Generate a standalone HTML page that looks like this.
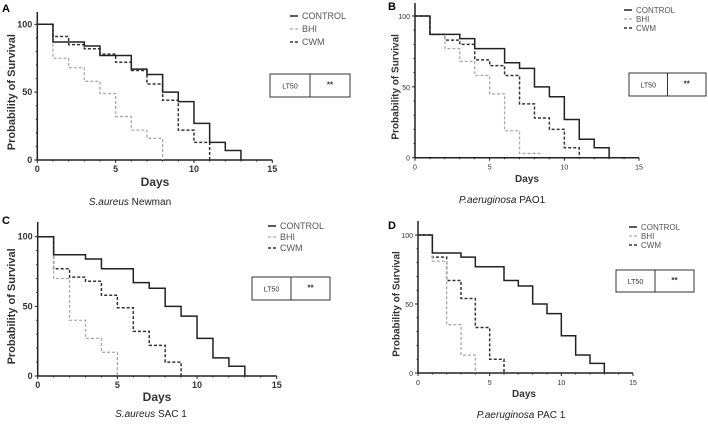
<!DOCTYPE html>
<html><head><meta charset="utf-8"><style>
body{margin:0;background:#fff;width:708px;height:421px;overflow:hidden;font-family:"Liberation Sans",sans-serif}
svg text{font-family:"Liberation Sans",sans-serif}
</style></head><body>
<svg id="fig" width="708" height="421"></svg>
<script>
// Day of each step, and % survival from that day onward (for each series)
const ctrlDays=[0,1,3,4,6,7,8,9,10,11,12,13];
const ctrlVals=[100,87,84,77,67,63,50,43,27,13,7,0];
const aBhiDays=[0,1,2,3,4,5,6,7,8];
const aBhiVals=[100,75,68,58,49,32,22,16,0];
const aCwmDays=[0,1,2,3,4,5,6,7,8,9,10,11];
const aCwmVals=[100,91,85,82,78,72,66,56,44,22,13,0];
const bBhiDays=[0,1,2,3,4,5,6,7,8];
const bBhiVals=[100,87,77,68,58,45,19,3,3];
const bCwmDays=[0,1,2,3,4,5,6,7,8,9,10,11];
const bCwmVals=[100,87,83,80,69,65,58,38,28,20,7,0];
const cBhiDays=[0,1,2,3,4,5];
const cBhiVals=[100,70,40,27,17,0];
const cCwmDays=[0,1,2,3,4,5,6,7,8,9];
const cCwmVals=[100,77,71,68,58,49,32,22,10,0];
const dBhiDays=[0,1,2,3,4];
const dBhiVals=[100,81,35,13,0];
const dCwmDays=[0,1,2,3,4,5,6];
const dCwmVals=[100,84,67,54,33,10,0];
const xTicks=[0,5,10,15];
const yTicks=[0,50,100];
const seriesNames=["CONTROL","BHI","CWM"];

const NS="http://www.w3.org/2000/svg";
const svg=document.getElementById('fig');
function el(tag,attrs,parent,txt){const e=document.createElementNS(NS,tag);for(const k in attrs)e.setAttribute(k,attrs[k]);if(txt!==undefined)e.textContent=txt;(parent||svg).appendChild(e);return e;}

const panels=[
 {id:'a',letter:'A',lx:2,ly:12,x0:37.3,x1:272.3,y100:24.3,y0:160,top:12,fs:9,bold:true,ytx:8,days:[155,186],cap:[130,205],capI:'S.aureus',capR:' Newman',leg:[290,16,13],box:[270,74,80,23],bhi:[aBhiDays,aBhiVals],cwm:[aCwmDays,aCwmVals]},
 {id:'b',letter:'B',lx:388,ly:10,x0:415,x1:639,y100:16,y0:157.7,top:3,fs:7,bold:false,ytx:392,days:[527,182],cap:[502,203],capI:'P.aeruginosa',capR:' PAO1',leg:[624,10,9],box:[629,73,77,23],bhi:[bBhiDays,bBhiVals],cwm:[bCwmDays,bCwmVals]},
 {id:'c',letter:'C',lx:2,ly:224,x0:37.7,x1:276.7,y100:236.7,y0:376,top:222,fs:9,bold:true,ytx:8,days:[157,401],cap:[151,417],capI:'S.aureus',capR:' SAC 1',leg:[268,226,11],box:[252,277,78,23],bhi:[cBhiDays,cBhiVals],cwm:[cCwmDays,cCwmVals]},
 {id:'d',letter:'D',lx:388,ly:229,x0:418,x1:633,y100:235,y0:373,top:221,fs:7,bold:false,ytx:393,days:[524,397],cap:[521,418],capI:'P.aeruginosa',capR:' PAC 1',leg:[629,227,9],box:[616,270,78,22],bhi:[dBhiDays,dBhiVals],cwm:[dCwmDays,dCwmVals]}
];

function stepPath(days,vals,sx,sy){
  let d='M'+sx(days[0])+','+sy(vals[0]);
  for(let i=1;i<days.length;i++){d+=' H'+sx(days[i])+' V'+sy(vals[i]);}
  if(vals[vals.length-1]>0) d+=' H'+sx(days[days.length-1]+0.4);
  return d;
}

panels.forEach(p=>{
  const g=el('g',{});
  
  
  const sx=v=>p.x0+(p.x1-p.x0)*v/15;
  const sy=v=>p.y0+(p.y100-p.y0)*v/100;
  const t=el('text',{x:p.lx,y:p.ly,'font-size':11,'font-weight':'bold'},g,p.letter);
  
  // axes
  const ax=el('path',{d:`M${p.x0},${p.top} V${p.y0} H${p.x1}`,stroke:'#222',fill:'none','stroke-width':1.5},g);
  
  for(let i=0;i<=15;i++){const tk=el('line',{x1:sx(i),x2:sx(i),y1:p.y0,y2:p.y0+(i%5?1.5:3),stroke:'#222','stroke-width':1},g);
    }
  for(let v=0;v<=100;v+=10){const tk=el('line',{x1:p.x0-(v%50?1.5:3),x2:p.x0,y1:sy(v),y2:sy(v),stroke:'#222'},g);
    }
  const fw=p.bold?'bold':'normal';
  xTicks.forEach(v=>{const l=el('text',{x:sx(v),y:p.y0+12,'font-size':p.fs,'font-weight':fw,'text-anchor':'middle',fill:'#333'},g,v);
    });
  yTicks.forEach(v=>{const l=el('text',{x:p.x0-5,y:sy(v)+3,'font-size':p.fs,'font-weight':fw,'text-anchor':'end',fill:'#333'},g,v);
    });
  const cy=(p.y0+p.y100)/2;
  const yt=el('text',{x:p.ytx,y:cy,'font-size':p.bold?11:10,'font-weight':'bold','text-anchor':'middle',fill:'#333',transform:`rotate(-90 ${p.ytx} ${cy})`,'dominant-baseline':'hanging'},g,'Probability of Survival');
  
  const xt=el('text',{x:p.days[0],y:p.days[1],'font-size':p.bold?12:10,'font-weight':'bold','text-anchor':'middle',fill:'#333'},g,'Days');
  
  const cap=el('text',{x:p.cap[0],y:p.cap[1],'font-size':10,'text-anchor':'middle',fill:'#222'},g);
  
  el('tspan',{'font-style':'italic'},cap,p.capI);el('tspan',{},cap,p.capR);
  // series
  const styles=[{c:'#222',w:1.5,da:'none'},{c:'#aaa',w:1.3,da:'3,2'},{c:'#333',w:1.5,da:'3,2'}];
  const data=[[ctrlDays,ctrlVals],p.bhi,p.cwm];
  [2,1,0].forEach(i=>{const s=styles[i];const path=el('path',{d:stepPath(data[i][0],data[i][1],sx,sy),stroke:s.c,'stroke-width':s.w,'stroke-dasharray':s.da,fill:'none'},g);
    });
  // legend
  seriesNames.forEach((n,i)=>{const s=styles[i];const y=p.leg[1]+i*p.leg[2];
    const lg=el('g',{},g);
    el('line',{x1:p.leg[0],x2:p.leg[0]+8,y1:y,y2:y,stroke:s.c,'stroke-width':s.w,'stroke-dasharray':s.da},lg);
    el('text',{x:p.leg[0]+12,y:y+3,'font-size':p.bold?9:8,fill:'#555'},lg,n);});
  // LT50 box
  const b=p.box;const bx=el('g',{},g);
  el('rect',{x:b[0],y:b[1],width:b[2],height:b[3],fill:'#fff',stroke:'#333','stroke-width':1},bx);
  el('line',{x1:b[0]+b[2]/2,x2:b[0]+b[2]/2,y1:b[1],y2:b[1]+b[3],stroke:'#333'},bx);
  el('text',{x:b[0]+b[2]/4,y:b[1]+b[3]/2+3,'font-size':7,'text-anchor':'middle',fill:'#333'},bx,'LT50');
  el('text',{x:b[0]+b[2]*3/4,y:b[1]+b[3]/2+2,'font-size':8,'font-weight':'bold','text-anchor':'middle',fill:'#333'},bx,'**');
});
</script>
</body></html>
